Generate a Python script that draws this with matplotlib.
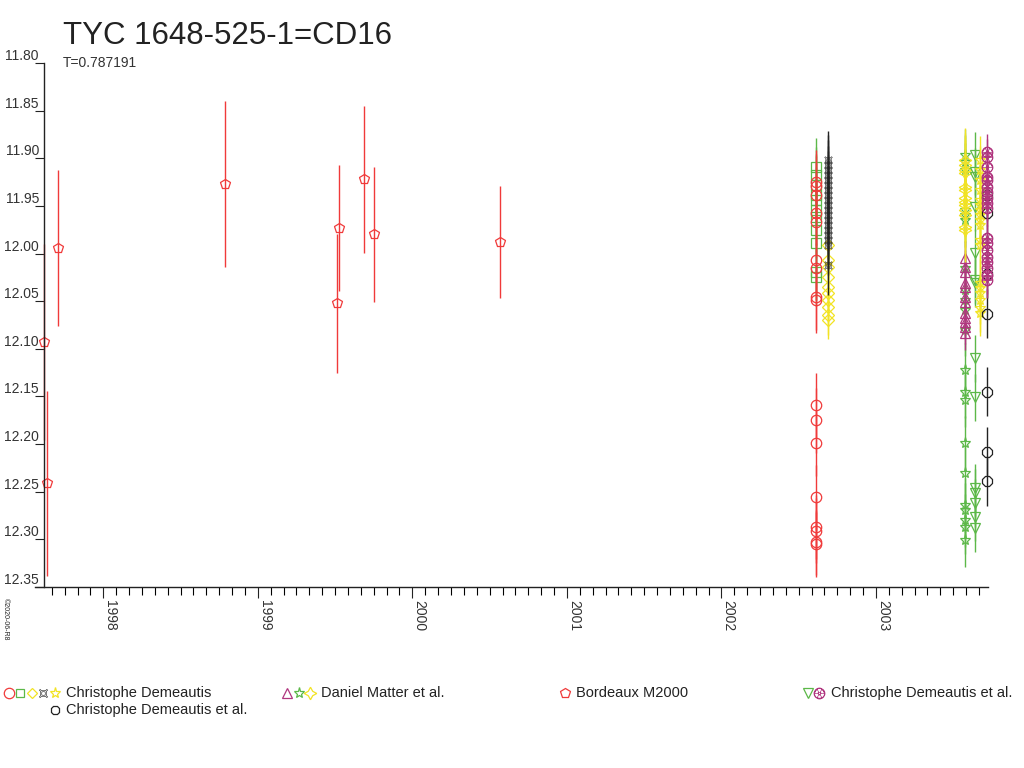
import matplotlib
matplotlib.use('Agg')
import matplotlib.pyplot as plt
from matplotlib.lines import Line2D

plt.rcParams['font.family'] = ['Liberation Sans', 'DejaVu Sans']

# ---------------------------
# Data (year, magnitude, error)
# ---------------------------
# Bordeaux M2000 (red pentagons)
bdx_year = [1997.616, 1997.634, 1997.709, 1998.790, 1999.524, 1999.515, 1999.690, 1999.753, 2000.568]
bdx_mag = [12.093, 12.241, 11.994, 11.927, 11.973, 12.052, 11.922, 11.980, 11.988]
bdx_err = [0.103, 0.097, 0.082, 0.087, 0.066, 0.073, 0.077, 0.071, 0.059]

# Christophe Demeautis
cd_circle_year = 2002.613
cd_circle_mag = [11.925, 11.929, 11.939, 11.957, 11.967, 12.007, 12.015, 12.046, 12.049,
                 12.159, 12.175, 12.199, 12.256, 12.287, 12.291, 12.303, 12.305]
cd_circle_err = 0.034

cd_square_year = 2002.613
cd_square_mag = [11.909, 11.918, 11.928, 11.939, 11.944, 11.954, 11.962, 11.975, 11.989, 12.019, 12.025]
cd_square_err = 0.030

cd_diamond_year = 2002.691
cd_diamond_mag = [11.991, 12.007, 12.014, 12.025, 12.035, 12.041, 12.049, 12.056, 12.065, 12.070]
cd_diamond_err = 0.020

cd_curr_year = 2002.691
cd_curr_mag = [11.902, 11.907, 11.912, 11.918, 11.923, 11.928, 11.933, 11.939, 11.944, 11.949,
               11.954, 11.960, 11.965, 11.970, 11.975, 11.981, 11.986, 11.991, 12.012]
cd_curr_err = 0.031

cd_star_year = 2003.675
cd_star_mag = [11.902, 11.912, 11.923, 11.933, 11.944, 11.949, 11.954, 11.960, 11.965, 11.970,
               11.986, 11.991, 12.031, 12.036, 12.041, 12.049, 12.057, 12.062]
cd_star_err = 0.025

# Daniel Matter et al.
dm_year = 2003.577
dm_tri_mag = [12.005, 12.014, 12.019, 12.031, 12.035, 12.046, 12.051, 12.062, 12.068, 12.072, 12.077, 12.083]
dm_tri_err = 0.018
dm_star_mag = [11.897, 11.904, 11.912, 11.954, 11.960, 11.965, 12.015, 12.038, 12.049, 12.059, 12.080,
               12.122, 12.145, 12.154, 12.199, 12.230, 12.264, 12.269, 12.280, 12.287, 12.301]
dm_star_err = 0.028
dm_spark_mag = [11.902, 11.907, 11.912, 11.915, 11.930, 11.933, 11.942, 11.946, 11.949, 11.954, 11.960, 11.972, 11.975]
dm_spark_err = 0.034

# Christophe Demeautis et al.
cde_tri_year = 2003.639
cde_tri_mag = [11.897, 11.914, 11.920, 11.951, 11.999, 12.028, 12.031, 12.110, 12.151,
               12.246, 12.251, 12.262, 12.277, 12.288]
cde_tri_err = 0.025
cde_rad_year = 2003.719
cde_rad_mag = [11.893, 11.899, 11.909, 11.920, 11.923, 11.930, 11.935, 11.942, 11.947, 11.952,
               11.984, 11.989, 11.996, 12.004, 12.009, 12.015, 12.023, 12.028]
cde_rad_err = 0.019
cde2_year = 2003.719
cde2_mag = [11.939, 11.957, 12.021, 12.063, 12.145, 12.208, 12.239]
cde2_err = 0.026

yticks = [11.80, 11.85, 11.90, 11.95, 12.00, 12.05, 12.10, 12.15, 12.20, 12.25, 12.30, 12.35]
years = [1998, 1999, 2000, 2001, 2002, 2003]

RED = '#f03a3a'
GREEN = '#5cb848'
YELLOW = '#f2e324'
BLACK = '#222222'
MAGENTA = '#b0367f'

W, H = 1024, 768
fig = plt.figure(figsize=(W / 100, H / 100), dpi=100)
ax = fig.add_axes([35 / W, (H - 587) / H, (988 - 35) / W, (587 - 63) / H])


def series(x, mags, err, marker, color, ms=7, mew=0.9):
    xs = x if isinstance(x, list) else [x] * len(mags)
    es = err if isinstance(err, list) else [err] * len(mags)
    ax.errorbar(xs, mags, yerr=es, fmt='none', ecolor=color, elinewidth=1.0,
                capsize=0, clip_on=False)
    ax.plot(xs, mags, ls='none', marker=marker, mfc='none', mec=color, mew=mew, ms=ms,
            clip_on=False)


series(cd_square_year, cd_square_mag, cd_square_err, 's', GREEN, 6.5)
series(cd_circle_year, cd_circle_mag, cd_circle_err, 'o', RED, 7.5)
series(cd_diamond_year, cd_diamond_mag, cd_diamond_err, 'D', YELLOW, 6)
series(cd_curr_year, cd_curr_mag, cd_curr_err, '$¤$', BLACK, 5.5, 0.4)
series(dm_year, dm_star_mag, dm_star_err, '*', GREEN, 8)
series(dm_year, dm_tri_mag, dm_tri_err, '^', MAGENTA, 7)
series(dm_year, dm_spark_mag, dm_spark_err, (4, 1, 0), YELLOW, 9)
series(cde_tri_year, cde_tri_mag, cde_tri_err, 'v', GREEN, 7)
series(cd_star_year, cd_star_mag, cd_star_err, '*', YELLOW, 8)
series(cde2_year, cde2_mag, cde2_err, '8', BLACK, 7.5)
series(cde_rad_year, cde_rad_mag, cde_rad_err, '$☢$', MAGENTA, 8, 0.5)
series(bdx_year, bdx_mag, bdx_err, 'p', RED, 7.5)

# axes styling
ax.set_xlim(1997.558, 2003.725)
ax.set_ylim(12.35, 11.80)
for s in ['top', 'right']:
    ax.spines[s].set_visible(False)
ax.spines['left'].set_position(('data', 1997.616))
for s in ['left', 'bottom']:
    ax.spines[s].set_color(BLACK)
    ax.spines[s].set_linewidth(1.0)

ax.set_yticks(yticks)
ax.set_yticklabels(['%.2f' % v for v in yticks])
ax.tick_params(axis='y', direction='out', length=6.5, width=0.8, pad=-2.9,
               labelsize=10, colors=BLACK)
for lab in ax.get_yticklabels():
    lab.set_va('bottom')
    lab.set_color('#333333')

ax.set_xticks(years)
ax.set_xticklabels([str(y) for y in years], rotation=270)
# monthly minor ticks, starting Aug 1997
months = [1997 + 7 / 12 + i / 12 for i in range(1, 80)]
ax.set_xticks([m for m in months if m <= 2003.72], minor=True)
ax.tick_params(axis='x', which='major', direction='out', length=8, width=0.8, pad=1.5,
               labelsize=10, colors=BLACK)
ax.tick_params(axis='x', which='minor', direction='out', length=5.5, width=0.8)
for lab in ax.get_xticklabels():
    lab.set_ha('left')
    lab.set_va('top')
    lab.set_color('#333333')

# titles
fig.text(63 / W, 1 - 44 / H, 'TYC 1648-525-1=CD16', fontsize=22.5, color=BLACK, va='baseline')
fig.text(63 / W, 1 - 67 / H, 'T=0.787191', fontsize=10, color='#333333', va='baseline')
fig.text(2 / W, 1 - 598 / H, '©2020-06-R8', fontsize=5, rotation=270, va='top', ha='left',
         color=BLACK)


# legend
def leg_marker(px, py, marker, color, ms=7, mew=0.9):
    fig.add_artist(Line2D([px / W], [1 - py / H], transform=fig.transFigure, marker=marker,
                          color=color, mfc='none', mec=color, mew=mew, ms=ms, ls='none'))


def leg_text(px, py, txt):
    fig.text(px / W, 1 - py / H, txt, fontsize=10.5, color=BLACK, va='center')


ly = 693
leg_marker(9, ly, 'o', RED, 7.5)
leg_marker(20, ly, 's', GREEN, 6)
leg_marker(32, ly, 'D', YELLOW, 5.5)
leg_marker(43, ly, '$¤$', BLACK, 6, 0.4)
leg_marker(55, ly, '*', YELLOW, 8)
leg_text(66, ly, 'Christophe Demeautis')
leg_marker(287, ly, '^', MAGENTA, 6.5)
leg_marker(299, ly, '*', GREEN, 8)
leg_marker(310, ly, (4, 1, 0), YELLOW, 9)
leg_text(321, ly, 'Daniel Matter et al.')
leg_marker(565, ly, 'p', RED, 7)
leg_text(576, ly, 'Bordeaux M2000')
leg_marker(808, ly, 'v', GREEN, 6.5)
leg_marker(819, ly, '$☢$', MAGENTA, 8, 0.5)
leg_text(831, ly, 'Christophe Demeautis et al.')
leg_marker(55, 710, '8', BLACK, 7)
leg_text(66, 710, 'Christophe Demeautis et al.')

fig.savefig('out.png', dpi=100)
